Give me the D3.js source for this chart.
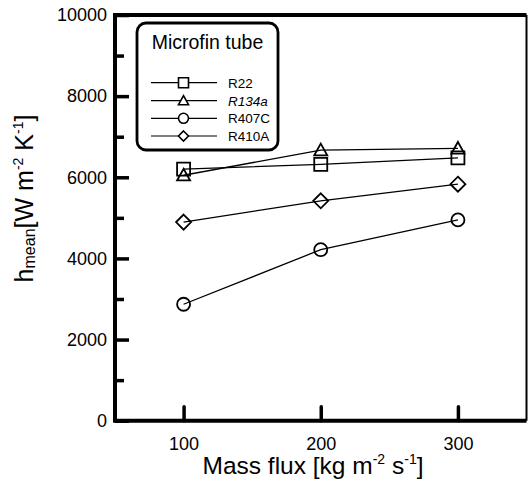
<!DOCTYPE html>
<html><head><meta charset="utf-8">
<script src="https://cdn.jsdelivr.net/npm/d3@7"></script>
<style>
body{margin:0;background:#fff;}
svg{display:block;font-family:"Liberation Sans",Arial,sans-serif;}
</style></head>
<body>
<svg id="chart" width="529" height="483"></svg>
<script>
const massFlux = [100, 200, 300];
const seriesNames = ["R22", "R134a", "R407C", "R410A"];
const r22 = [6200, 6320, 6480];
const r134a = [6050, 6670, 6710];
const r407c = [2870, 4215, 4950];
const r410a = [4895, 5420, 5830];
const xTicks = [100, 200, 300];
const yMajorTicks = [0, 2000, 4000, 6000, 8000, 10000];
const yMinorTicks = [1000, 3000, 5000, 7000, 9000];

const series = [
  {name: "R22", values: r22, shape: "square", italic: false},
  {name: "R134a", values: r134a, shape: "triangle", italic: true},
  {name: "R407C", values: r407c, shape: "circle", italic: false},
  {name: "R410A", values: r410a, shape: "diamond", italic: false}
];

const svg = d3.select("#chart");
const x = d3.scaleLinear().domain([50, 350]).range([115, 526.5]);
const y = d3.scaleLinear().domain([0, 10000]).range([420.7, 15]);

function symbolPath(shape, s) {
  const h = s / 2;
  if (shape === "square") return `M${-h},${-h}H${h}V${h}H${-h}Z`;
  if (shape === "triangle") return `M0,${-h}L${h},${h*0.8}L${-h},${h*0.8}Z`;
  if (shape === "diamond") return `M0,${-h}L${h},0L0,${h}L${-h},0Z`;
  if (shape === "circle") return `M${h},0A${h},${h} 0 1,1 ${-h},0A${h},${h} 0 1,1 ${h},0Z`;
}

// data lines
const line = d3.line().x((d, i) => x(massFlux[i])).y(d => y(d));
series.forEach(s => {
  svg.append("path").attr("d", line(s.values)).attr("fill", "none")
    .attr("stroke", "#000").attr("stroke-width", 1.3);
});
series.forEach(s => {
  svg.selectAll(null).data(s.values).enter().append("path")
    .attr("transform", (d, i) => `translate(${x(massFlux[i])},${y(d)})`)
    .attr("d", symbolPath(s.shape, s.shape === "diamond" ? 15 : 13))
    .attr("fill", "none").attr("stroke", "#000").attr("stroke-width", 1.8);
});

// axes
const xAxis = svg.append("g").attr("transform", `translate(0,${y(0)})`)
  .call(d3.axisBottom(x).tickValues(xTicks).tickSize(-14).tickPadding(29).tickFormat(d3.format("d")));
xAxis.select(".domain").remove();
xAxis.selectAll(".tick line").attr("stroke-width", 3.5).attr("stroke-linecap", "round");
xAxis.selectAll("text").attr("font-size", 18).attr("fill", "#000").attr("dy", "0");

const yAxis = svg.append("g").attr("transform", `translate(${x(50)},0)`)
  .call(d3.axisLeft(y).tickValues(yMajorTicks).tickSize(-14).tickPadding(8).tickFormat(d3.format("d")));
yAxis.select(".domain").remove();
yAxis.selectAll(".tick line").attr("stroke-width", 3.5);
yAxis.selectAll("text").attr("font-size", 18).attr("fill", "#000");

const yMinor = svg.append("g").attr("transform", `translate(${x(50)},0)`)
  .call(d3.axisLeft(y).tickValues(yMinorTicks).tickSize(-9).tickFormat(""));
yMinor.select(".domain").remove();
yMinor.selectAll(".tick line").attr("stroke-width", 3.5);

// frame
svg.append("path").attr("d", `M${x(350)},${y(10000)}H${x(50)}V${y(0)}H${x(350)}`)
  .attr("fill", "none").attr("stroke", "#000").attr("stroke-width", 4);
svg.append("line").attr("x1", x(350)).attr("x2", x(350)).attr("y1", y(10000)).attr("y2", y(0))
  .attr("stroke", "#000").attr("stroke-width", 2);

// legend
const lg = svg.append("g");
lg.append("rect").attr("x", 137).attr("y", 23).attr("width", 141).attr("height", 127)
  .attr("rx", 9).attr("fill", "#fff").attr("stroke", "#000").attr("stroke-width", 2.8);
lg.append("text").attr("x", 207.5).attr("y", 48.5).attr("text-anchor", "middle")
  .attr("font-size", 19.5).attr("fill", "#000").text("Microfin tube");
const rowY = [82.7, 100.7, 118.3, 136];
series.forEach((s, i) => {
  const g = lg.append("g").attr("transform", `translate(0,${rowY[i]})`);
  g.append("line").attr("x1", 151).attr("x2", 217).attr("y1", 0).attr("y2", 0)
    .attr("stroke", "#000").attr("stroke-width", 1.2);
  g.append("path").attr("transform", "translate(183.5,0)")
    .attr("d", symbolPath(s.shape, 10)).attr("fill", "#fff")
    .attr("stroke", "#000").attr("stroke-width", 1.6);
  g.append("text").attr("x", 228).attr("y", 5).attr("font-size", 13.5)
    .attr("font-style", s.italic ? "italic" : "normal").attr("fill", "#000").text(seriesNames[i]);
});

// x axis title
const xt = svg.append("text").attr("x", 313).attr("y", 474).attr("text-anchor", "middle")
  .attr("font-size", 24.5).attr("fill", "#000");
xt.append("tspan").text("Mass flux [kg m");
xt.append("tspan").attr("font-size", 14).attr("dy", -10).text("-2");
xt.append("tspan").attr("dy", 10).text(" s");
xt.append("tspan").attr("font-size", 14).attr("dy", -10).text("-1");
xt.append("tspan").attr("dy", 10).text("]");

// y axis title
const yt = svg.append("text").attr("transform", "translate(33,198.5) rotate(-90)")
  .attr("text-anchor", "middle").attr("font-size", 25).attr("fill", "#000");
yt.append("tspan").text("h");
yt.append("tspan").attr("font-size", 16).attr("dy", 2).text("mean");
yt.append("tspan").attr("dy", -2).text("[W m");
yt.append("tspan").attr("font-size", 14).attr("dy", -10).text("-2");
yt.append("tspan").attr("dy", 10).text(" K");
yt.append("tspan").attr("font-size", 14).attr("dy", -10).text("-1");
yt.append("tspan").attr("dy", 10).text("]");
</script>
</body></html>
